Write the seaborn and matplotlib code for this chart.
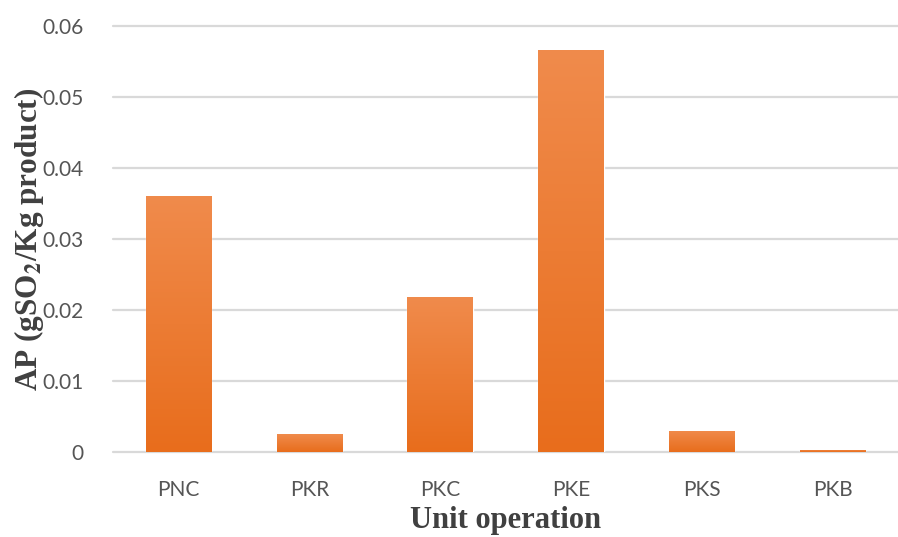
import numpy as np
import pandas as pd
import matplotlib
matplotlib.use("Agg")
import matplotlib.pyplot as plt
from matplotlib.colors import LinearSegmentedColormap
import seaborn as sns

# Acidification potential per unit operation
units = ["PNC", "PKR", "PKC", "PKE", "PKS", "PKB"]
ap_values = [0.0361, 0.0025, 0.0219, 0.0566, 0.0030, 0.0003]
y_ticks = [0, 0.01, 0.02, 0.03, 0.04, 0.05, 0.06]
y_tick_labels = ["0", "0.01", "0.02", "0.03", "0.04", "0.05", "0.06"]

df = pd.DataFrame({"unit": units, "ap": ap_values})

sns.set_theme(style="white")
plt.rcParams["mathtext.fontset"] = "stix"

fig = plt.figure(figsize=(8.98, 5.37), dpi=100)
ax = fig.add_axes([113 / 898, 85 / 537, 785 / 898, 426 / 537])

sns.barplot(data=df, x="unit", y="ap", color="#EC7A33", width=0.5,
            saturation=1, ax=ax, zorder=3)

# vertical orange gradient inside each bar
grad_cmap = LinearSegmentedColormap.from_list("bar_grad", ["#E86D1C", "#F08B4C"])
gradient = np.linspace(0, 1, 256).reshape(-1, 1)
for patch in ax.patches:
    x0, y0 = patch.get_x(), patch.get_y()
    w, h = patch.get_width(), patch.get_height()
    img = ax.imshow(gradient, cmap=grad_cmap, origin="lower", aspect="auto",
                    extent=[x0, x0 + w, y0, y0 + h], zorder=4,
                    interpolation="bicubic")
    img.set_clip_path(patch)

ax.set_xlim(-0.5, 5.5)
ax.set_ylim(0, 0.06)
ax.set_yticks(y_ticks)
ax.set_yticklabels(y_tick_labels)

for y in y_ticks:
    ax.axhline(y, color="#D9D9D9", lw=1.6, zorder=1, clip_on=False)

for s in ax.spines.values():
    s.set_visible(False)

ax.tick_params(axis="both", length=0, labelsize=15, labelcolor="#555555")
ax.tick_params(axis="y", pad=21)
ax.tick_params(axis="x", pad=20)
for lbl in ax.get_xticklabels() + ax.get_yticklabels():
    lbl.set_fontfamily(["Lato", "DejaVu Sans"])

ax.set_xlabel("Unit operation", fontsize=22, fontweight="bold",
              family="Liberation Serif", color="#404040")
ax.set_ylabel(r"AP (gSO$_{\mathbf{2}}$/Kg product)", fontsize=22.5,
              fontweight="bold", family="Liberation Serif", color="#404040")
ax.xaxis.set_label_coords(0.5, (452 - 506) / 426)
ax.yaxis.set_label_coords((46 - 113) / 785, 0.5)

fig.savefig("out.png", dpi=100, facecolor="white")
